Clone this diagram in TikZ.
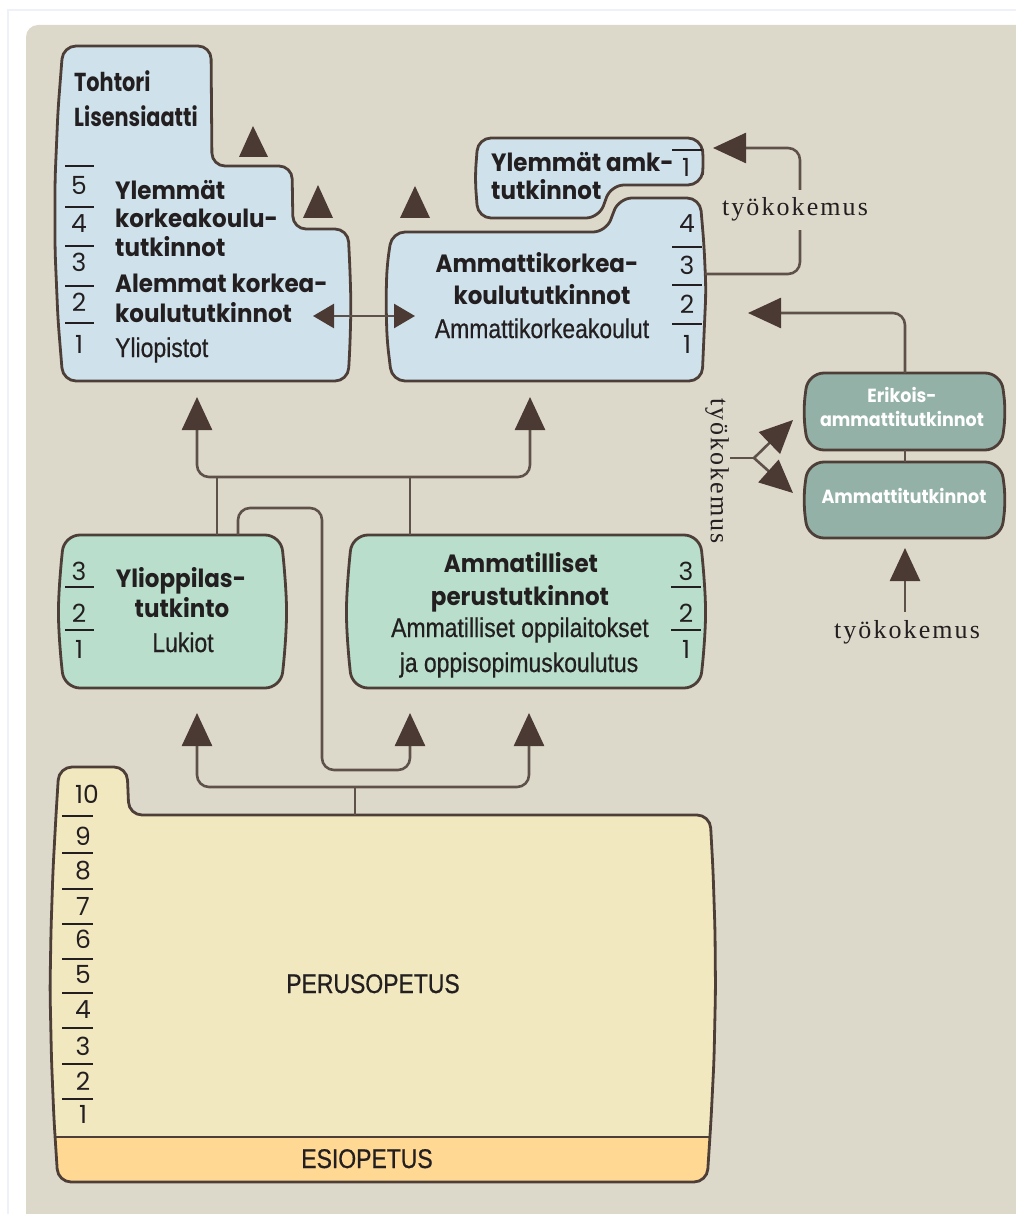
\documentclass[tikz,border=0pt]{standalone}
\usepackage{fontspec}
\usetikzlibrary{arrows.meta}

% type faces
\newfontfamily\hdfont{Poppins}[FakeStretch=0.92]
\newfontfamily\hdnarrow{Poppins}[FakeStretch=0.8]
\newfontfamily\numfont{Poppins}
\newfontfamily\cdfont{Liberation Sans}[FakeStretch=0.85,FakeBold=0.6]
\newfontfamily\serfont{Liberation Serif}[LetterSpace=8]

% colours
\definecolor{bgc}{HTML}{DDD9CA}
\definecolor{bluec}{HTML}{CFE2EB}
\definecolor{mintc}{HTML}{B9DFCC}
\definecolor{tealc}{HTML}{93B1A6}
\definecolor{yelc}{HTML}{F1E8C0}
\definecolor{orc}{HTML}{FFD894}
\definecolor{edgec}{HTML}{4D3F38}
\definecolor{linec}{HTML}{5E514A}
\definecolor{tipc}{HTML}{4A3A33}
\definecolor{txtc}{HTML}{231F20}
\definecolor{framec}{HTML}{EEF1F8}

\tikzset{
  box/.style={draw=edgec,line width=2.8pt,rounded corners=13pt},
  conn/.style={draw=linec,line width=2.6pt,rounded corners=12pt},
  bigtip/.style={-{Triangle[length=33pt,width=30pt,color=tipc]}},
  twotips/.style={{Triangle[length=33pt,width=30pt,color=tipc]}-{Triangle[length=33pt,width=30pt,color=tipc]}},
  smalltip/.style={{Triangle[length=21pt,width=24pt,color=tipc]}-{Triangle[length=21pt,width=24pt,color=tipc]}},
  txt/.style={inner sep=0pt,text=txtc},
  bold/.style={txt,font={\hdfont\bfseries\fontsize{25}{29}\selectfont}},
  boldnarrow/.style={txt,font={\hdnarrow\bfseries\fontsize{26}{29}\selectfont}},
  cond/.style={txt,font={\cdfont\fontsize{27}{30}\selectfont}},
  num/.style={txt,anchor=base,font={\numfont\fontsize{25}{25}\selectfont}},
  wbold/.style={inner sep=0pt,text=white,anchor=base,font={\hdfont\bfseries\fontsize{19}{22}\selectfont}},
  work/.style={inner sep=0pt,text=txtc,font={\serfont\fontsize{26}{28}\selectfont}},
  sep/.style={draw=txtc,line width=1.4pt},
  freetip/.style={fill=tipc}
}

\begin{document}
\begin{tikzpicture}[x=1pt,y=-1pt]
\useasboundingbox (0,0) rectangle (1016,1214);
\clip (0,0) rectangle (1016,1214);

% page and panel
\fill[white] (0,0) rectangle (1016,1214);
\draw[framec,line width=1.5pt] (8,1214) -- (8,10) -- (1016,10);
\fill[bgc,rounded corners=12pt] (26,25) rectangle (1040,1240);

% ---------------- boxes ----------------
% universities
\path[box,fill=bluec] (140,46) -- (211,46) -- (212,166) -- (292,166) -- (293,229)
  -- (348,229) -- (350,270) -- (351,305) -- (350,345) -- (348,381) -- (63,381)
  -- (58,320) -- (55,250) -- (55,180) -- (58,110) -- (63,46) -- cycle;
% higher polytechnic degrees
\path[box,fill=bluec] (560,138) -- (701,138) -- (704,162) -- (701,185) -- (611,185)
  -- (599,218) -- (478,218) -- (475,178) -- (478,138) -- cycle;
% polytechnics
\path[box,fill=bluec] (500,232) -- (606,232) -- (619,198) -- (700,198) -- (704,245)
  -- (706,290) -- (704,335) -- (702,381) -- (392,381) -- (387,340) -- (386,300)
  -- (387,265) -- (392,232) -- cycle;
% upper secondary school
\path[box,fill=mintc,rounded corners=16pt] (170,535) -- (281,535) -- (285,575) -- (287,612)
  -- (285,650) -- (281,688) -- (64,688) -- (60,650) -- (58,612) -- (60,575) -- (64,535) -- cycle;
% vocational upper secondary
\path[box,fill=mintc,rounded corners=16pt] (520,535) -- (700,535) -- (704,575) -- (706,612)
  -- (704,650) -- (700,688) -- (352,688) -- (348,650) -- (346,612) -- (348,575) -- (352,535) -- cycle;
% specialist / further vocational qualifications
\path[box,fill=tealc,rounded corners=16pt] (900,373) -- (1001,373) -- (1006,412) -- (1001,450)
  -- (808,450) -- (803,412) -- (808,373) -- cycle;
\path[box,fill=tealc,rounded corners=16pt] (900,462) -- (1001,462) -- (1006,500) -- (1001,538)
  -- (808,538) -- (803,500) -- (808,462) -- cycle;
% basic education with pre-primary band
\def\peruspath{(300,815) -- (710,815) -- (713,870) -- (715,930) -- (715.5,990) -- (714,1060)
  -- (711,1120) -- (707,1182) -- (58,1182) -- (54,1120) -- (51.5,1060) -- (50,990)
  -- (51,930) -- (53,870) -- (56,815) -- (59,767) -- (127,767) -- (129,815) -- cycle}
\fill[yelc,rounded corners=13pt] \peruspath;
\begin{scope}
  \clip[rounded corners=13pt] \peruspath;
  \fill[orc] (0,1137) rectangle (1016,1214);
  \draw[edgec,line width=2.8pt] (0,1137) -- (1016,1137);
\end{scope}
\draw[box] \peruspath;

% ---------------- anchor points ----------------
\coordinate (univ-in) at (197,397);
\coordinate (amk-in)  at (530,397);
\coordinate (bus)     at (0,477);
\coordinate (yo-n1)   at (217,535);
\coordinate (yo-n2)   at (238,535);
\coordinate (am-n1)   at (410,535);
\coordinate (yo-in)   at (197,713);
\coordinate (am-in1)  at (410,713);
\coordinate (am-in2)  at (529,713);
\coordinate (bus2)    at (0,787);
\coordinate (perus-n) at (355,815);
\coordinate (univ-e)  at (313,316);
\coordinate (amk-w)   at (415,316);
\coordinate (amk-e)   at (705,274);
\coordinate (ya-in)   at (713,148);
\coordinate (er-n)    at (905,373);
\coordinate (er-s)    at (905,450);
\coordinate (at-n)    at (905,462);
\coordinate (amk-in2) at (748,313);
\coordinate (at-in)   at (905,548);
\coordinate (fork-a)  at (730,458);
\coordinate (fork)    at (754,458);
\coordinate (er-in)   at (793,420);
\coordinate (at-in2)  at (793,493);

% ---------------- connectors ----------------
\draw[conn,twotips] (univ-in) -- (univ-in |- bus) -- (amk-in |- bus) -- (amk-in);
\draw[conn] (yo-n1) -- (yo-n1 |- bus);
\draw[conn] (am-n1) -- (am-n1 |- bus);
\draw[conn,bigtip] (yo-n2) -- (238,508) -- (322,508) -- (322,770) -- (410,770) -- (am-in1);
\draw[conn,twotips] (yo-in) -- (yo-in |- bus2) -- (am-in2 |- bus2) -- (am-in2);
\draw[conn] (perus-n) -- (perus-n |- bus2);
\draw[conn,smalltip] (univ-e) -- (amk-w);
\draw[conn,bigtip] (amk-e) -- (800,274) -- (800,148) -- (ya-in);
\draw[conn,bigtip] (er-n) -- (905,313) -- (amk-in2);
\draw[conn] (er-s) -- (at-n);
\draw[conn] (fork-a) -- (fork);
\draw[conn,bigtip] (fork) -- (er-in);
\draw[conn,bigtip] (fork) -- (at-in2);

% free arrowheads pointing onward
\fill[freetip] (239,157) -- (253,126) -- (268,157) -- cycle;
\fill[freetip] (303,218) -- (318,185) -- (333,218) -- cycle;
\fill[freetip] (400,218) -- (415,186) -- (430,218) -- cycle;

% ---------------- work experience labels ----------------
\node[work,fill=bgc,inner ysep=8pt,inner xsep=3pt,anchor=base] (tk1) at (795,216) {työkokemus};
\node[work,anchor=base] (tk3) at (907,638) {työkokemus};
\draw[conn,bigtip] (905,612) -- (at-in);
\node[work,rotate=-90] (tk2) at (717,471) {työkokemus};

% ---------------- texts: universities ----------------
\node[boldnarrow,anchor=base west] (t1) at (74,92) {Tohtori};
\node[boldnarrow,anchor=base west] (t2) at (74,127) {Lisensiaatti};
\node[bold,anchor=base west] (t3) at (115,200) {Ylemmät};
\node[bold,anchor=base west] (t4) at (115,228) {korkeakoulu-};
\node[bold,anchor=base west] (t5) at (115,257) {tutkinnot};
\node[bold,anchor=base west] (t6) at (115,293) {Alemmat korkea-};
\node[bold,anchor=base west] (t7) at (115,322) {koulututkinnot};
\node[cond,anchor=base west] (t8) at (115,357) {Yliopistot};
\foreach \n/\y in {5/195,4/233,3/272,2/312,1/353}
  \node[num] at (79,\y) {\n};
\foreach \y in {166,207,246,286,323}
  \draw[sep] (65,\y) -- (94,\y);

% ---------------- texts: polytechnics ----------------
\node[bold,anchor=base west] (a1) at (491,172) {Ylemmät amk-};
\node[bold,anchor=base west] (a2) at (491,200) {tutkinnot};
\node[num] at (686,177) {1};
\draw[sep] (672,150) -- (702,150);
\node[bold,anchor=base] (a3) at (537,273) {Ammattikorkea-};
\node[bold,anchor=base] (a4) at (542,305) {koulututkinnot};
\node[cond,anchor=base] (a5) at (542,338) {Ammattikorkeakoulut};
\foreach \n/\y in {4/233,3/275,2/313,1/353}
  \node[num] at (687,\y) {\n};
\foreach \y in {247,285,324}
  \draw[sep] (672,\y) -- (702,\y);

% ---------------- texts: secondary level ----------------
\node[bold,anchor=base] (y1) at (181,587) {Ylioppilas-};
\node[bold,anchor=base] (y2) at (182,617) {tutkinto};
\node[cond,anchor=base] (y3) at (183,652) {Lukiot};
\foreach \n/\y in {3/580,2/622,1/658}
  \node[num] at (79,\y) {\n};
\foreach \y in {587,630}
  \draw[sep] (65,\y) -- (94,\y);

\node[bold,anchor=base] (v1) at (521,572) {Ammatilliset};
\node[bold,anchor=base] (v2) at (520,605) {perustutkinnot};
\node[cond,anchor=base] (v3) at (520,637) {Ammatilliset oppilaitokset};
\node[cond,anchor=base] (v4) at (519,672) {ja oppisopimuskoulutus};
\foreach \n/\y in {3/580,2/622,1/658}
  \node[num] at (686,\y) {\n};
\foreach \y in {587,630}
  \draw[sep] (671,\y) -- (701,\y);

% ---------------- texts: vocational qualifications ----------------
\node[wbold] (e1) at (902,402) {Erikois-};
\node[wbold] (e2) at (902,426) {ammattitutkinnot};
\node[wbold] (e3) at (904,503) {Ammattitutkinnot};

% ---------------- texts: basic education ----------------
\node[num] at (87,803) {10};
\foreach \n/\y in {9/845,8/879,7/915,6/948,5/983,4/1018,3/1055,2/1090,1/1123}
  \node[num] at (83,\y) {\n};
\foreach \y in {816,853,889,924,959,993,1028,1064,1099}
  \draw[sep] (62,\y) -- (93,\y);
\node[cond,anchor=base] (p1) at (373,993) {PERUSOPETUS};
\node[cond,anchor=base] (p2) at (367,1168) {ESIOPETUS};
\end{tikzpicture}
\end{document}
